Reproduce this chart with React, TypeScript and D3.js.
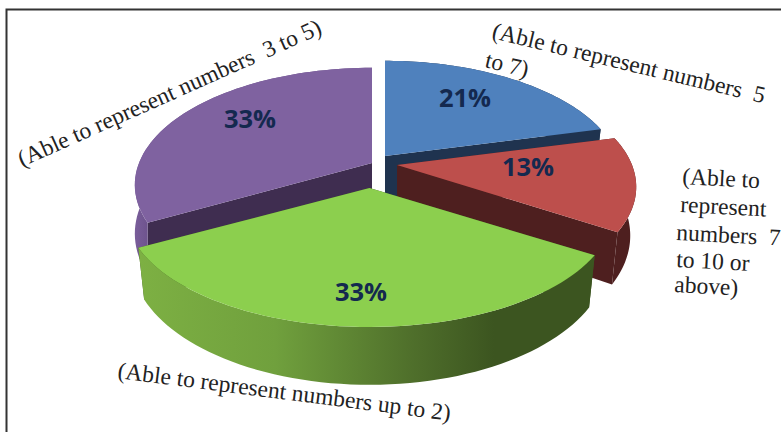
import React from "react";
import * as d3 from "d3";

// Share of children in each number-representation group, clockwise from 12 o'clock.
const groups = ["5 to 7", "7 to 10 or above", "up to 2", "3 to 5"];
const shares = [21, 13, 33, 33];
const shareLabels = ["21%", "13%", "33%", "33%"];

// Appearance of each slice.
const topColors = ["#4f81bd", "#bd4f4c", "#8ccf4e", "#7f62a0"];
const wallColors = ["#1f334f", "#4e1f1f", "#3c5520", "#3f2d50"];
const rimFills = ["#1f334f", "#4e1f1f", "url(#greenRim)", "url(#purpleRim)"];

// Exploded centre, drawn radius and base narrowing of each slice on the page.
const centerX = [385, 397, 369.5, 372];
const centerY = [156, 165, 188, 163];
const radii = [233, 235, 240, 233];
const baseShrink = [0.975, 0.975, 0.975, 1];

// Position of each percentage.
const shareX = [465, 528, 361, 250];
const shareY = [98, 167, 292, 119];

// Category captions, one entry per text line.
const captionLines = [
  "(Able to represent numbers  5",
  "to 7)",
  "(Able to",
  "represent",
  "numbers  7",
  "to 10 or",
  "above)",
  "(Able to represent numbers up to 2)",
  "(Able to represent numbers  3 to 5)",
];
const captionX = [491, 484, 682, 680, 676, 676, 674, 117, 22];
const captionY = [38, 67, 184, 212, 240, 267, 292, 378, 167];
const captionAngle = [13.5, 13.5, 3, 3, 3, 3, 3, 7.3, -24];

// Tilted-disc projection: the near side of the pie is drawn larger than the far side.
const tilt = 113;
const perspective = 0.187;
const depth = 47;

type Pt = [number, number];

const projectTop = (i: number, a: number): Pt => {
  const s = 1 / (1 + perspective * Math.cos(a));
  return [centerX[i] + radii[i] * Math.sin(a) * s, centerY[i] - tilt * Math.cos(a) * s];
};
const projectBase = (i: number, a: number): Pt => {
  const s = 1 / (1 + perspective * Math.cos(a));
  return [centerX[i] + radii[i] * baseShrink[i] * Math.sin(a) * s, centerY[i] - tilt * Math.cos(a) * s + depth * s];
};

const line = d3.line<Pt>();
const angleSteps = (a0: number, a1: number) => d3.range(0, 61).map((k) => a0 + ((a1 - a0) * k) / 60);

const slices = d3.pie<number>().sort(null)(shares);

export default function App() {
  return (
    <svg
      width={781}
      height={432}
      style={{ position: "absolute", left: 0, top: 0, background: "#fff" }}
    >
      <defs>
        <linearGradient id="greenRim" gradientUnits="userSpaceOnUse" x1={139} x2={594} y1={0} y2={0}>
          <stop offset="0" stopColor="#7db043" />
          <stop offset="0.3" stopColor="#70a03d" />
          <stop offset="0.6" stopColor="#4f6f2b" />
          <stop offset="0.78" stopColor="#3c5520" />
          <stop offset="1" stopColor="#3c5520" />
        </linearGradient>
        <linearGradient id="purpleRim" gradientUnits="userSpaceOnUse" x1={134} x2={152} y1={0} y2={0}>
          <stop offset="0" stopColor="#7a5e9b" />
          <stop offset="1" stopColor="#6a5089" />
        </linearGradient>
      </defs>

      {/* frame */}
      <path d="M6.5,432 V9.5 H781" fill="none" stroke="#333" strokeWidth={2} />

      {/* slices, back to front */}
      {[3, 0, 1, 2].map((i) => {
        const { startAngle, endAngle } = slices[i];
        const top = angleSteps(startAngle, endAngle).map((a) => projectTop(i, a));
        const base = angleSteps(startAngle, endAngle).map((a) => projectBase(i, a));
        const hubTop: Pt = [centerX[i], centerY[i]];
        const hubBase: Pt = [centerX[i], centerY[i] + depth];
        return (
          <g key={groups[i]}>
            <path
              d={line([hubTop, top[0], base[0], hubBase])! + "Z"}
              fill={wallColors[i]}
            />
            <path
              d={line([hubTop, top[top.length - 1], base[base.length - 1], hubBase])! + "Z"}
              fill={wallColors[i]}
            />
            <path d={line([...top, ...base.slice().reverse()])! + "Z"} fill={rimFills[i]} />
            <path d={line([hubTop, ...top])! + "Z"} fill={topColors[i]} />
          </g>
        );
      })}

      {/* percentages */}
      {shareLabels.map((label, i) => (
        <text
          key={i}
          x={shareX[i]}
          y={shareY[i]}
          dy="0.35em"
          textAnchor="middle"
          fontFamily="'Open Sans', sans-serif"
          fontWeight={700}
          fontSize={25.5}
          fill="#14294f"
        >
          {label}
        </text>
      ))}

      {/* captions */}
      {captionLines.map((label, i) => (
        <text
          key={i}
          transform={`translate(${captionX[i]},${captionY[i]}) rotate(${captionAngle[i]})`}
          fontFamily="'Liberation Serif', serif"
          fontSize={23.5}
          fill="#222"
          style={{ whiteSpace: "pre" }}
        >
          {label}
        </text>
      ))}
    </svg>
  );
}
